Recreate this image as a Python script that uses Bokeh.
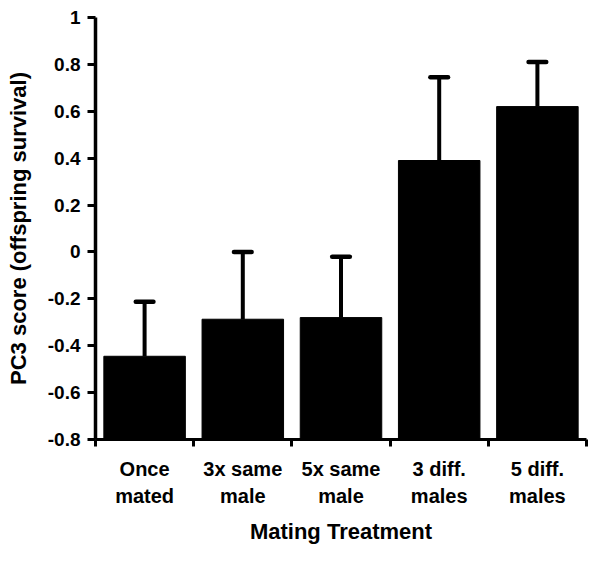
from bokeh.plotting import figure
from bokeh.models import Range1d, FixedTicker, CustomJSTickFormatter, ColumnDataSource, LinearAxis
from bokeh.embed import file_html
from bokeh.resources import INLINE

categories = ["Once\nmated", "3x same\nmale", "5x same\nmale", "3 diff.\nmales", "5 diff.\nmales"]
means = [-0.445, -0.287, -0.28, 0.39, 0.62]
se_upper = [0.233, 0.287, 0.26, 0.355, 0.19]
y_ticks = [-0.8, -0.6, -0.4, -0.2, 0.0, 0.2, 0.4, 0.6, 0.8, 1.0]
baseline = -0.8
x_title = "Mating Treatment"
y_title = "PC3 score (offspring survival)"

FONT = "Liberation Sans"

xc = [i + 0.5 for i in range(len(categories))]
upper = [m + s for m, s in zip(means, se_upper)]
src = ColumnDataSource(dict(
    x=xc, top=means, up=upper,
    x0=[x - 0.09 for x in xc], x1=[x + 0.09 for x in xc],
))

p = figure(width=588, height=546, output_backend="svg", toolbar_location=None,
           x_range=Range1d(0, len(categories)), y_range=Range1d(-0.8, 1.0),
           min_border_left=95, min_border_right=2, min_border_top=17, min_border_bottom=0)
p.outline_line_color = None
p.xgrid.grid_line_color = None
p.ygrid.grid_line_color = None

p.vbar(x="x", width=0.83, top="top", bottom=baseline, source=src,
       fill_color="black", line_color="black")
p.segment(x0="x", y0="top", x1="x", y1="up", source=src,
          line_color="black", line_width=4)
p.segment(x0="x0", y0="up", x1="x1", y1="up", source=src,
          line_color="black", line_width=4.5, line_cap="round")

# x axis (category boundaries as ticks, names centred)
xa = p.xaxis[0]
xa.ticker = FixedTicker(ticks=xc, minor_ticks=list(range(len(categories) + 1)))
xa.major_label_overrides = {x: c for x, c in zip(xc, categories)}
xa.major_tick_line_color = None
xa.major_tick_out = 0
xa.major_tick_in = 0
xa.minor_tick_line_color = "black"
xa.minor_tick_line_width = 3
xa.minor_tick_out = 7
xa.minor_tick_in = 0
xa.axis_line_width = 3
xa.axis_line_color = "black"
xa.major_label_standoff = 11
xa.major_label_text_font = FONT
xa.major_label_text_font_style = "bold"
xa.major_label_text_font_size = "20px"
xa.major_label_text_line_height = 1.25
xa.major_label_text_color = "black"

# x title drawn as the single label of a bare second axis
xt = LinearAxis(ticker=FixedTicker(ticks=[len(categories) / 2], minor_ticks=[]),
                major_label_overrides={len(categories) / 2: x_title},
                axis_line_color=None, major_tick_line_color=None,
                minor_tick_line_color=None, major_tick_out=0, major_tick_in=0,
                minor_tick_out=0, minor_tick_in=0, major_label_standoff=8,
                major_label_text_font=FONT, major_label_text_font_style="bold",
                major_label_text_font_size="22px", major_label_text_color="black")
p.add_layout(xt, "below")

# y axis
ya = p.yaxis[0]
ya.ticker = FixedTicker(ticks=y_ticks, minor_ticks=[])
ya.formatter = CustomJSTickFormatter(code="return String(Math.round(tick * 10) / 10);")
ya.major_tick_line_width = 3
ya.major_tick_line_color = "black"
ya.major_tick_out = 8
ya.major_tick_in = 0
ya.axis_line_width = 3.5
ya.axis_line_color = "black"
ya.major_label_standoff = 7
ya.major_label_text_font = FONT
ya.major_label_text_font_style = "bold"
ya.major_label_text_font_size = "19px"
ya.major_label_text_color = "black"
ya.axis_label = y_title
ya.axis_label_text_font = FONT
ya.axis_label_text_font_style = "bold"
ya.axis_label_text_font_size = "22px"
ya.axis_label_text_color = "black"
ya.axis_label_standoff = 14

open("out.html", "w").write(file_html(p, INLINE))
